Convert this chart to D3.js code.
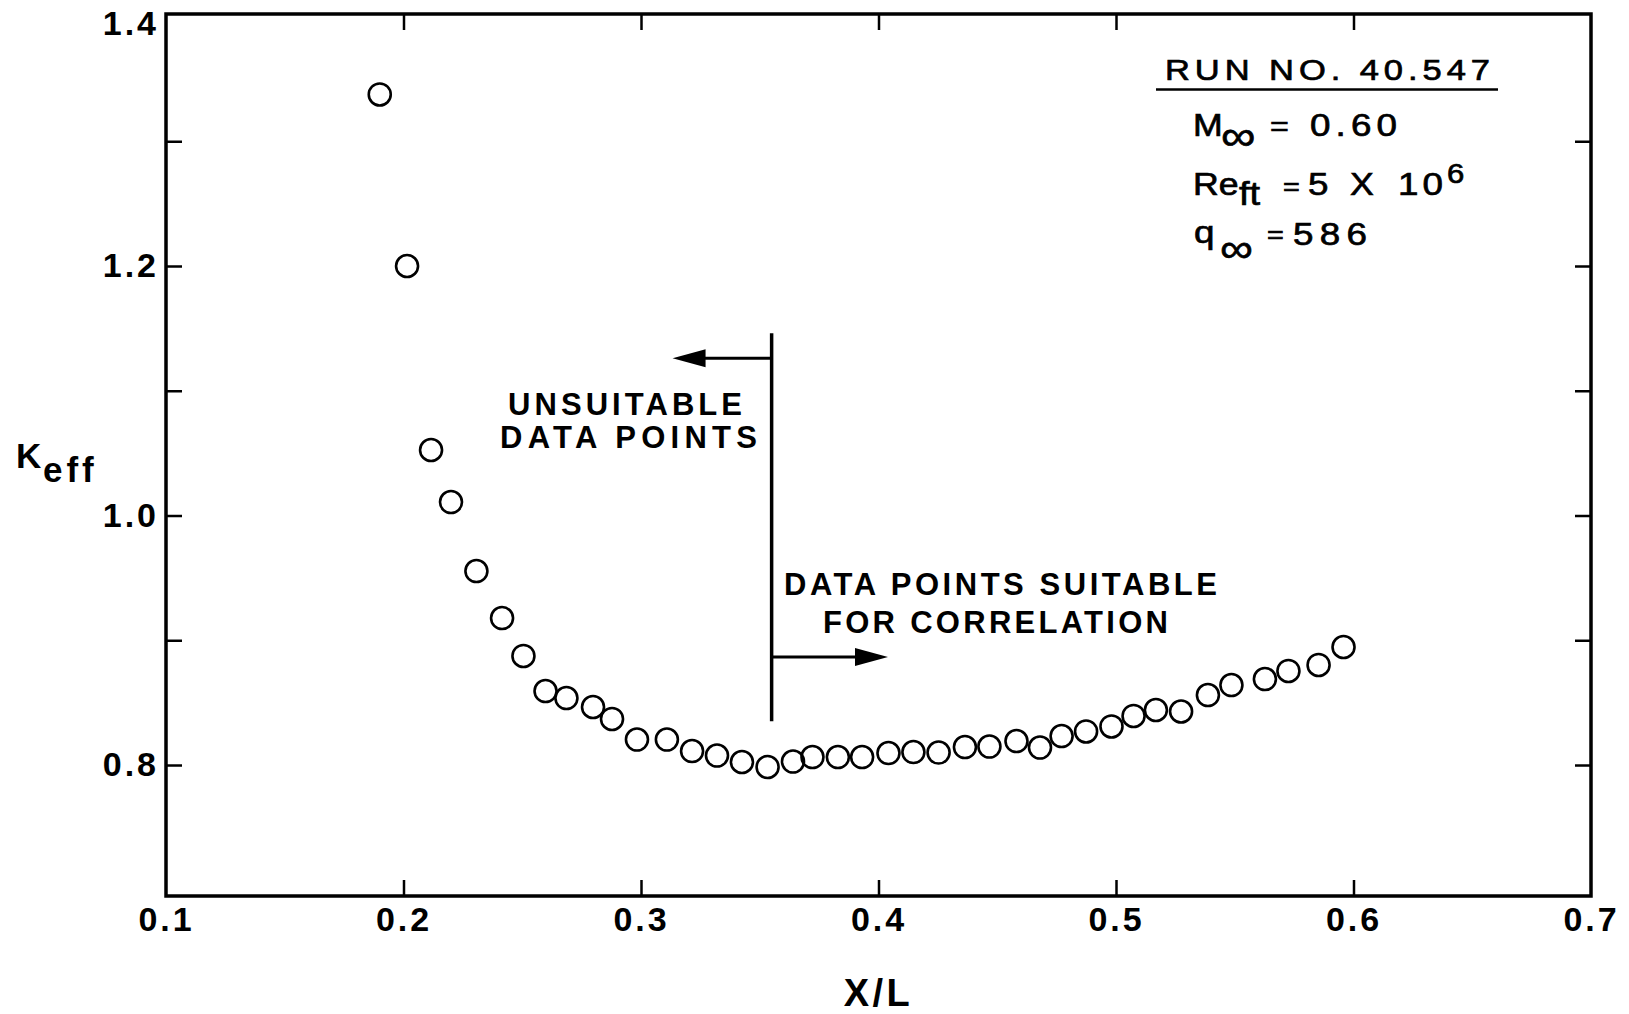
<!DOCTYPE html>
<html>
<head>
<meta charset="utf-8">
<script src="https://cdn.jsdelivr.net/npm/d3@7"></script>
<style>
  body { margin: 0; background: #fff; }
  svg { display: block; font-family: "Liberation Sans", Arial, Helvetica, sans-serif; }
</style>
</head>
<body>
<script>
const width = 1629;
const height = 1014;
const margin = {top: 14, right: 38, bottom: 118, left: 166};
const innerW = width - margin.left - margin.right;
const innerH = height - margin.top - margin.bottom;

// X/L positions of the pressure taps
const xValues = [0.190, 0.2015, 0.2116, 0.220, 0.2307, 0.2415, 0.2505, 0.2598, 0.2686, 0.2798,
                 0.2878, 0.2983, 0.3109, 0.3215, 0.332, 0.3425, 0.3533, 0.364, 0.3722, 0.3829,
                 0.3931, 0.4042, 0.4147, 0.4253, 0.4364, 0.4467, 0.4581, 0.468, 0.4771, 0.4874,
                 0.4981, 0.5074, 0.5168, 0.5274, 0.5387, 0.5486, 0.5627, 0.5726, 0.5853, 0.5958];
// K_eff
const kValues = [1.3375, 1.200, 1.0525, 1.0108, 0.9555, 0.9178, 0.8874, 0.8593, 0.8537, 0.8465,
                 0.8369, 0.8204, 0.8204, 0.8112, 0.8076, 0.8024, 0.7984, 0.8028, 0.8064, 0.8064,
                 0.8064, 0.8096, 0.8104, 0.810, 0.8144, 0.8148, 0.8192, 0.814, 0.8232, 0.8269,
                 0.8309, 0.8393, 0.8441, 0.8429, 0.8561, 0.8641, 0.8689, 0.8754, 0.8802, 0.8946];

const xTicks = [0.1, 0.2, 0.3, 0.4, 0.5, 0.6, 0.7];
const yTicks = [0.8, 0.9, 1.0, 1.1, 1.2, 1.3, 1.4];
const yLabelled = [0.8, 1.0, 1.2, 1.4];

// split between unsuitable / suitable points, and arrow heights
const splitX = 0.355;
const splitTop = 1.146, splitBottom = 0.835;
const leftArrow = {y: 1.126, tip: 0.3133};
const rightArrow = {y: 0.8866, tip: 0.404};

const runInfo = ["RUN NO. 40.547", "0.60", "5", "10", "6", "586"];

const data = xValues.map((d, i) => ({x: d, k: kValues[i]}));

let svg = d3.select("body")
    .append("svg")
    .attr("width", width)
    .attr("height", height);

let chart = svg.append("g")
    .attr("transform", "translate(" + margin.left + "," + margin.top + ")");

let x = d3.scaleLinear().domain([0.1, 0.7]).range([0, innerW]);
let y = d3.scaleLinear().domain([0.695, 1.402]).range([innerH, 0]);

function styleAxis(g) {
    g.select(".domain").remove();
    g.attr("font-family", null).attr("font-size", null);
    g.selectAll(".tick line").attr("stroke", "#000").attr("stroke-width", 2.5);
    g.selectAll(".tick text")
        .attr("fill", "#000")
        .style("font-size", "34px")
        .style("font-weight", "bold")
        .style("letter-spacing", "3px");
}

chart.append("g")
    .attr("transform", "translate(0," + innerH + ")")
    .call(d3.axisBottom(x).tickValues(xTicks).tickFormat(d3.format(".1f")).tickSize(-16).tickPadding(11))
    .call(styleAxis)
    .call(g => g.selectAll(".tick").filter(d => d === 0.1 || d === 0.7).select("line").remove());

chart.append("g")
    .call(d3.axisLeft(y).tickValues(yTicks)
        .tickFormat(d => yLabelled.includes(d) ? d3.format(".1f")(d) : "")
        .tickSize(-16).tickPadding(7))
    .call(styleAxis)
    .call(g => g.selectAll(".tick").filter(d => d === 1.4).select("line").remove())
    .call(g => g.selectAll(".tick").filter(d => d === 1.4).select("text").attr("dy", "0.54em"));

chart.append("g")
    .call(d3.axisTop(x).tickValues(xTicks.slice(1, -1)).tickFormat("").tickSize(-16))
    .call(styleAxis);

chart.append("g")
    .attr("transform", "translate(" + innerW + ",0)")
    .call(d3.axisRight(y).tickValues(yTicks.slice(0, -1)).tickFormat("").tickSize(-16))
    .call(styleAxis);

chart.append("rect")
    .attr("width", innerW)
    .attr("height", innerH)
    .attr("fill", "none")
    .attr("stroke", "#000")
    .attr("stroke-width", 3.5);

chart.selectAll("circle")
    .data(data)
    .enter()
    .append("circle")
    .attr("cx", d => x(d.x))
    .attr("cy", d => y(d.k))
    .attr("r", 11)
    .attr("fill", "none")
    .attr("stroke", "#000")
    .attr("stroke-width", 2.6);

// divider and arrows
let ann = chart.append("g").attr("stroke", "#000").attr("fill", "#000");
ann.append("line")
    .attr("x1", x(splitX)).attr("x2", x(splitX))
    .attr("y1", y(splitTop)).attr("y2", y(splitBottom))
    .attr("stroke-width", 3.5);
ann.append("line")
    .attr("x1", x(splitX)).attr("x2", x(leftArrow.tip) + 30)
    .attr("y1", y(leftArrow.y)).attr("y2", y(leftArrow.y))
    .attr("stroke-width", 3);
ann.append("path")
    .attr("stroke", "none")
    .attr("d", d3.line()([[x(leftArrow.tip), y(leftArrow.y)], [x(leftArrow.tip) + 33, y(leftArrow.y) - 9],
        [x(leftArrow.tip) + 33, y(leftArrow.y) + 9]]) + "Z");
ann.append("line")
    .attr("x1", x(splitX)).attr("x2", x(rightArrow.tip) - 30)
    .attr("y1", y(rightArrow.y)).attr("y2", y(rightArrow.y))
    .attr("stroke-width", 3);
ann.append("path")
    .attr("stroke", "none")
    .attr("d", d3.line()([[x(rightArrow.tip), y(rightArrow.y)], [x(rightArrow.tip) - 33, y(rightArrow.y) - 9],
        [x(rightArrow.tip) - 33, y(rightArrow.y) + 9]]) + "Z");

// annotation text (page coordinates)
let notes = [
    {t: "UNSUITABLE", x: 508, y: 415, len: 234},
    {t: "DATA POINTS", x: 500, y: 448, len: 257},
    {t: "DATA POINTS SUITABLE", x: 784, y: 595, len: 433},
    {t: "FOR CORRELATION", x: 823, y: 633, len: 345}
];
svg.append("g")
    .selectAll("text")
    .data(notes)
    .enter()
    .append("text")
    .attr("x", d => d.x)
    .attr("y", d => d.y)
    .attr("textLength", d => d.len)
    .attr("lengthAdjust", "spacing")
    .style("font-size", "31px")
    .style("font-weight", "bold")
    .text(d => d.t);

// axis titles
svg.append("text")
    .attr("x", margin.left + x(0.4))
    .attr("y", 1006)
    .attr("text-anchor", "middle")
    .style("font-size", "38px")
    .style("font-weight", "bold")
    .style("letter-spacing", "3.5px")
    .text("X/L");

let kLabel = svg.append("g").style("font-weight", "bold").style("font-size", "35px");
kLabel.append("text").attr("x", 16).attr("y", 468).text("K");
kLabel.append("text").attr("x", 43).attr("y", 482).style("letter-spacing", "4px").text("eff");

// run information box, glyphs widened a little like the original lettering
const sx = 1.15;
let legend = [
    {t: runInfo[0], x: 1165, y: 80, fs: 30, len: 325},
    {t: "M", x: 1193, y: 136, fs: 31},
    {t: "\u221E", x: 1221, y: 150, fs: 42, len: 38},
    {t: "=", x: 1270, y: 136, fs: 28},
    {t: runInfo[1], x: 1310, y: 136, fs: 32, len: 87},
    {t: "Re", x: 1193, y: 195, fs: 31},
    {t: "ft", x: 1239, y: 205, fs: 33},
    {t: "=", x: 1283, y: 195, fs: 25},
    {t: runInfo[2], x: 1308, y: 195, fs: 32},
    {t: "X", x: 1350, y: 195, fs: 31},
    {t: runInfo[3], x: 1398, y: 195, fs: 32, len: 45},
    {t: runInfo[4], x: 1447, y: 183, fs: 27},
    {t: "q", x: 1194, y: 243, fs: 32},
    {t: "\u221E", x: 1220, y: 262, fs: 40, len: 34},
    {t: "=", x: 1267, y: 243, fs: 25},
    {t: runInfo[5], x: 1293, y: 245, fs: 32, len: 74}
];
svg.append("g")
    .selectAll("text")
    .data(legend)
    .enter()
    .append("text")
    .attr("transform", d => "translate(" + d.x + "," + d.y + ") scale(" + sx + ",1)")
    .attr("textLength", d => d.len ? d.len / sx : null)
    .attr("lengthAdjust", "spacing")
    .attr("stroke", "#000")
    .attr("stroke-width", 0.7)
    .style("font-size", d => d.fs + "px")
    .text(d => d.t);

svg.append("line")
    .attr("x1", 1156).attr("x2", 1498)
    .attr("y1", 89.5).attr("y2", 89.5)
    .attr("stroke", "#000")
    .attr("stroke-width", 2.5);
</script>
</body>
</html>
